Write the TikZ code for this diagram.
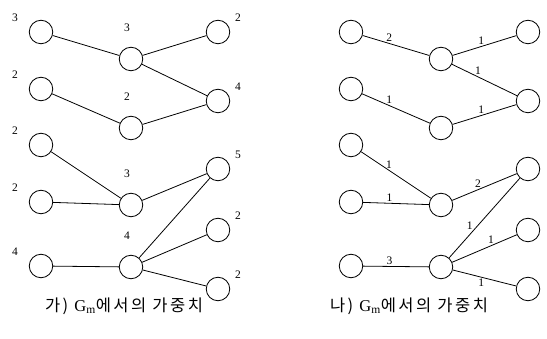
\documentclass[tikz,border=0pt]{standalone}
\usepackage{fontspec}
\setmainfont{Liberation Serif}
\newfontfamily\kor[LetterSpace=15]{Noto Sans CJK KR}
\usetikzlibrary{positioning}

\begin{document}
\begin{tikzpicture}[x=1pt,y=-1pt,
          every node/.style={font=\fontsize{11.5}{13}\selectfont},
          vert/.style={circle,draw,line width=0.8pt,minimum size=23.5pt,inner sep=0pt},
          wedge/.style={line width=0.8pt},
          elab/.style={inner sep=1.5pt},
          lnum/.style={label={[xshift=-26pt,yshift=14pt]center:#1}},
          mnum/.style={label={[xshift=-4pt,yshift=31pt]center:#1}},
          rnum/.style={label={[xshift=20pt,yshift=14pt]center:#1}},
          caption/.style={font=\fontsize{16.5}{19}\selectfont},
        ]
        \useasboundingbox (0,0) rectangle (547,339);
        % 가) node weights
        \node[vert,lnum=3] (l1) at (41,32) {};
        \node[vert,lnum=2] (l2) at (41,89) {};
        \node[vert,lnum=2] (l3) at (41,145) {};
        \node[vert,lnum=2] (l4) at (41,202) {};
        \node[vert,lnum=4] (l5) at (41,266) {};
        \node[vert,mnum=3] (m1) at (131,59) {};
        \node[vert,mnum=2] (m2) at (131,128) {};
        \node[vert,mnum=3] (m3) at (131,205) {};
        \node[vert,mnum=4] (m4) at (131,267) {};
        \node[vert,rnum=2] (r1) at (218,32) {};
        \node[vert,rnum=4] (r2) at (218,101) {};
        \node[vert,rnum=5] (r3) at (218,169) {};
        \node[vert,rnum=2] (r4) at (218,230) {};
        \node[vert,rnum=2] (r5) at (218,289) {};
        \draw[wedge] (l1) -- (m1);
        \draw[wedge] (m1) -- (r1);
        \draw[wedge] (m1) -- (r2);
        \draw[wedge] (l2) -- (m2);
        \draw[wedge] (m2) -- (r2);
        \draw[wedge] (l3) -- (m3);
        \draw[wedge] (l4) -- (m3);
        \draw[wedge] (m3) -- (r3);
        \draw[wedge] (l5) -- (m4);
        \draw[wedge] (m4) -- (r3);
        \draw[wedge] (m4) -- (r4);
        \draw[wedge] (m4) -- (r5);
        % 나) edge weights
        \begin{scope}[xshift=310pt]
        \node[vert] (pl1) at (41,32) {};
        \node[vert] (pl2) at (41,89) {};
        \node[vert] (pl3) at (41,145) {};
        \node[vert] (pl4) at (41,202) {};
        \node[vert] (pl5) at (41,266) {};
        \node[vert] (pm1) at (131,59) {};
        \node[vert] (pm2) at (131,128) {};
        \node[vert] (pm3) at (131,205) {};
        \node[vert] (pm4) at (131,267) {};
        \node[vert] (pr1) at (218,32) {};
        \node[vert] (pr2) at (218,101) {};
        \node[vert] (pr3) at (218,169) {};
        \node[vert] (pr4) at (218,230) {};
        \node[vert] (pr5) at (218,289) {};
        \draw[wedge] (pl1) -- node[elab,pos=.4,above] {2} (pm1);
        \draw[wedge] (pm1) -- node[elab,pos=.45,above] {1} (pr1);
        \draw[wedge] (pm1) -- node[elab,pos=.4,above] {1} (pr2);
        \draw[wedge] (pl2) -- node[elab,pos=.4,above] {1} (pm2);
        \draw[wedge] (pm2) -- node[elab,pos=.45,above] {1} (pr2);
        \draw[wedge] (pl3) -- node[elab,pos=.4,above] {1} (pm3);
        \draw[wedge] (pl4) -- node[elab,pos=.4,above] {1} (pm3);
        \draw[wedge] (pm3) -- node[elab,pos=.4,above] {2} (pr3);
        \draw[wedge] (pl5) -- node[elab,pos=.4,above] {3} (pm4);
        \draw[wedge] (pm4) -- node[elab,pos=.4,left=3pt] {1} (pr3);
        \draw[wedge] (pm4) -- node[elab,pos=.6,above] {1} (pr4);
        \draw[wedge] (pm4) -- node[elab,pos=.45,below] {1} (pr5);
        \end{scope}
        \node[caption] (capa) at (124,306) {\kor 가) {\rmfamily G\textsubscript{m}}에서의 가중치};
        \node[caption] (capb) at (409,306) {\kor 나) {\rmfamily G\textsubscript{m}}에서의 가중치};
      \end{tikzpicture}
\end{document}
